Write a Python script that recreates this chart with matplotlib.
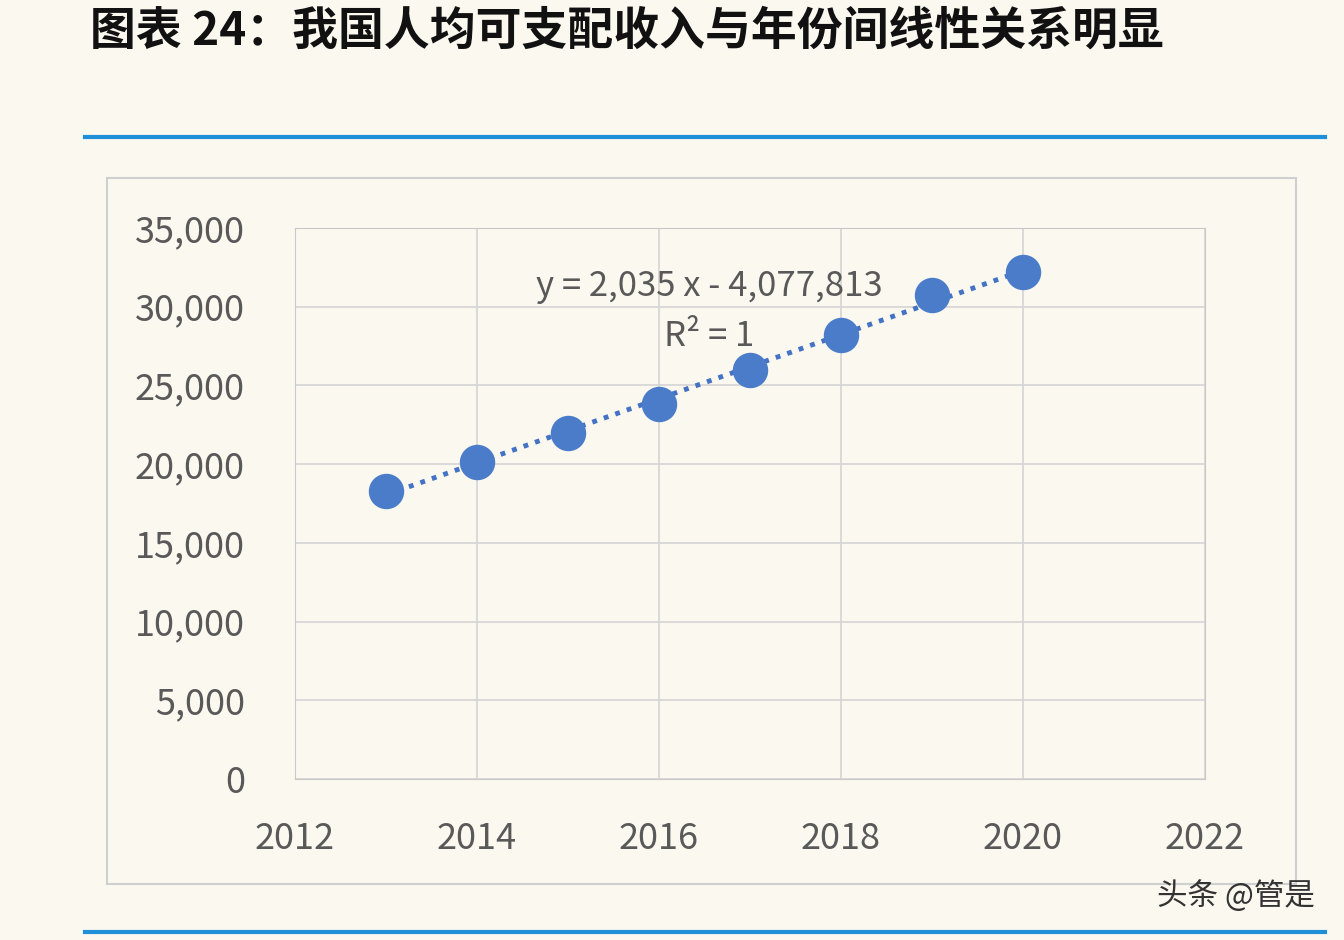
import matplotlib
matplotlib.use("Agg")
import matplotlib.pyplot as plt
import numpy as np
from matplotlib.patches import Rectangle
from matplotlib.lines import Line2D

plt.rcParams['font.family'] = ['Noto Sans CJK SC', 'DejaVu Sans']

years = [2013, 2014, 2015, 2016, 2017, 2018, 2019, 2020]
income = [18311, 20167, 21966, 23821, 25974, 28228, 30733, 32189]
xticks = [2012, 2014, 2016, 2018, 2020, 2022]
yticks = [0, 5000, 10000, 15000, 20000, 25000, 30000, 35000]

bg = '#fbf8f0'
fig = plt.figure(figsize=(13.44, 9.4), dpi=100, facecolor=bg)

fig.text(90/1344, 1-32/940, '图表 24：我国人均可支配收入与年份间线性关系明显', fontsize=33,
         fontweight='bold', style='italic', va='center', ha='left', color='#111111')
for yy in [137, 932]:
    fig.add_artist(Line2D([85/1344, 1325/1344], [1-yy/940]*2, color='#1f8fd8', lw=3))
fig.add_artist(Rectangle((107/1344, 1-884/940), (1296-107)/1344, (884-178)/940,
                         fill=False, edgecolor='#cfcfcf', lw=1.5))

ax = fig.add_axes([295/1344, 1-779/940, (1205-295)/1344, (779-228)/940])
ax.set_facecolor(bg)
ax.set_xlim(2012, 2022)
ax.set_ylim(0, 35000)
ax.set_xticks(xticks)
ax.set_yticks(yticks)
ax.set_yticklabels([f'{v:,}' for v in yticks])
ax.grid(True, color='#d5d5d5', lw=1.2)
for s in ax.spines.values():
    s.set_color('#c8c8c8')
ax.tick_params(length=0, labelsize=26, colors='#595959')
ax.tick_params(axis='y', pad=36)
ax.tick_params(axis='x', pad=30)

coef = np.polyfit(years, income, 1)
xs = np.array([years[0], years[-1]])
ax.plot(xs, np.polyval(coef, xs), ls=(0, (1, 1.5)), color='#4472c4', lw=3.5, zorder=2)
ax.scatter(years, income, s=600, color='#4a7cc9', zorder=3)
ax.text(2016.55, 31300, 'y = 2,035 x - 4,077,813', fontsize=25, color='#595959', ha='center', va='center')
ax.text(2016.55, 28100, 'R² = 1', fontsize=25, color='#595959', ha='center', va='center')

fig.text(1315/1344, 1-896/940, '头条 @管是', fontsize=22, color='#333333', ha='right', va='center')
fig.savefig('out.png', dpi=100, facecolor=bg)
